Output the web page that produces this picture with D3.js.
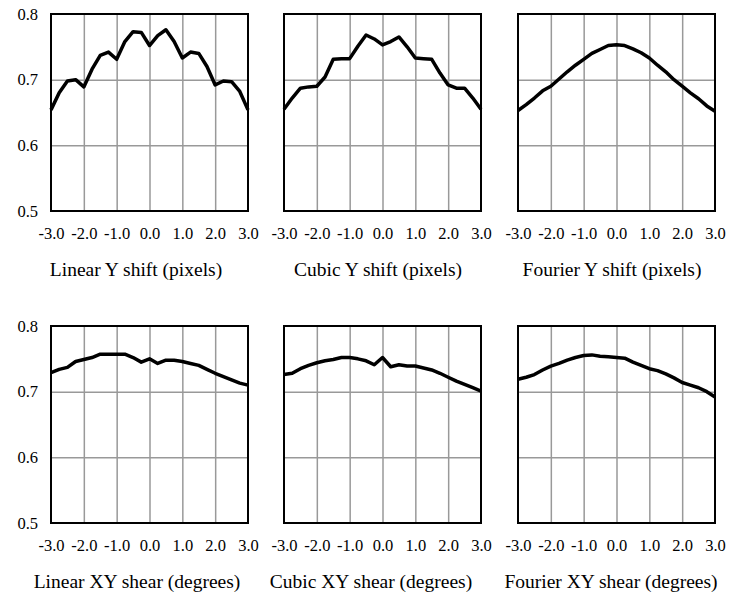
<!DOCTYPE html>
<html lang="en">
<head>
    <meta charset="UTF-8">
    <title>Shift and shear panels</title>
    <script src="https://d3js.org/d3.v7.min.js"></script>
    <style>
        body { margin: 0; background: #fff; font-family: "Liberation Serif", "Times New Roman", serif; }
        .grid line { stroke: #999; stroke-width: 1.5; }
        .grid path { display: none; }
        .lab path, .lab line { display: none; }
        .lab text { font-family: "Liberation Serif", serif; font-size: 16.5px; fill: #000; }
        .title { font-family: "Liberation Serif", serif; font-size: 19.5px; fill: #000; }
    </style>
</head>
<body>
    <div id="chart"></div>

    <script>
        const xValues = [-3, -2.75, -2.5, -2.25, -2, -1.75, -1.5, -1.25, -1, -0.75, -0.5, -0.25,
                         0, 0.25, 0.5, 0.75, 1, 1.25, 1.5, 1.75, 2, 2.25, 2.5, 2.75, 3];

        const linearYShift = [0.654, 0.680, 0.698, 0.700, 0.689, 0.716, 0.737, 0.742, 0.731, 0.758, 0.773, 0.772,
                              0.752, 0.767, 0.776, 0.758, 0.733, 0.742, 0.740, 0.720, 0.692, 0.698, 0.697, 0.682, 0.654];
        const cubicYShift = [0.655, 0.672, 0.687, 0.689, 0.690, 0.704, 0.731, 0.732, 0.732, 0.751, 0.768, 0.762,
                             0.753, 0.758, 0.765, 0.750, 0.733, 0.732, 0.731, 0.710, 0.692, 0.687, 0.687, 0.672, 0.655];
        const fourierYShift = [0.653, 0.662, 0.672, 0.683, 0.690, 0.701, 0.712, 0.722, 0.731, 0.740, 0.746, 0.752,
                               0.753, 0.752, 0.747, 0.741, 0.733, 0.722, 0.712, 0.700, 0.690, 0.680, 0.671, 0.660, 0.652];
        const linearXYShear = [0.729, 0.734, 0.737, 0.746, 0.749, 0.752, 0.757, 0.757, 0.757, 0.757, 0.752, 0.745,
                               0.750, 0.743, 0.748, 0.748, 0.746, 0.743, 0.740, 0.734, 0.728, 0.723, 0.718, 0.713, 0.710];
        const cubicXYShear = [0.726, 0.728, 0.735, 0.740, 0.744, 0.747, 0.749, 0.752, 0.752, 0.750, 0.747, 0.741,
                              0.752, 0.738, 0.741, 0.739, 0.739, 0.736, 0.733, 0.728, 0.722, 0.716, 0.711, 0.706, 0.701];
        const fourierXYShear = [0.719, 0.722, 0.726, 0.733, 0.739, 0.743, 0.748, 0.752, 0.755, 0.756, 0.754, 0.753,
                                0.752, 0.751, 0.745, 0.740, 0.735, 0.732, 0.727, 0.721, 0.714, 0.710, 0.706, 0.700, 0.692];

        const xTicks = [-3, -2, -1, 0, 1, 2, 3];
        const yTicks = [0.5, 0.6, 0.7, 0.8];
        const titles = ["Linear Y shift (pixels)", "Cubic Y shift (pixels)", "Fourier Y shift (pixels)",
                        "Linear XY shear (degrees)", "Cubic XY shear (degrees)", "Fourier XY shear (degrees)"];
        const series = [linearYShift, cubicYShift, fourierYShift, linearXYShear, cubicXYShear, fourierXYShear];

        const W = 729, H = 598;
        const plotW = 197, plotH = 197;
        const colLeft = [51, 284, 518];
        const rowTop = [14, 326];
        const titleX = [136, 378, 612, 137, 371, 611];

        const svg = d3.select("#chart").append("svg")
            .attr("width", W)
            .attr("height", H);

        const x = d3.scaleLinear().domain([-3, 3]).range([0, plotW]);
        const y = d3.scaleLinear().domain([0.5, 0.8]).range([plotH, 0]);

        const line = d3.line()
            .x((d, i) => x(xValues[i]))
            .y(d => y(d));

        series.forEach((vals, k) => {
            const col = k % 3, row = Math.floor(k / 3);
            const g = svg.append("g")
                .attr("transform", `translate(${colLeft[col]},${rowTop[row]})`);

            // grid lines
            g.append("g").attr("class", "grid")
                .attr("transform", `translate(0,${plotH})`)
                .call(d3.axisBottom(x).tickValues(xTicks.slice(1, -1)).tickSize(-plotH).tickFormat(""));
            g.append("g").attr("class", "grid")
                .call(d3.axisLeft(y).tickValues([0.6, 0.7]).tickSize(-plotW).tickFormat(""));

            // frame
            g.append("rect")
                .attr("width", plotW)
                .attr("height", plotH)
                .attr("fill", "none")
                .attr("stroke", "#000")
                .attr("stroke-width", 2);

            g.append("path")
                .datum(vals)
                .attr("d", line)
                .attr("fill", "none")
                .attr("stroke", "#000")
                .attr("stroke-width", 3.5)
                .attr("stroke-linejoin", "round");

            g.append("g").attr("class", "lab")
                .attr("transform", `translate(0,${plotH})`)
                .call(d3.axisBottom(x).tickValues(xTicks).tickSize(0).tickPadding(16)
                    .tickFormat(d => d.toFixed(1)));

            if (col === 0) {
                g.append("g").attr("class", "lab")
                    .call(d3.axisLeft(y).tickValues(yTicks).tickSize(0).tickPadding(13)
                        .tickFormat(d => d.toFixed(1)));
            }

            svg.append("text")
                .attr("class", "title")
                .attr("x", titleX[k])
                .attr("y", rowTop[row] + 262)
                .attr("text-anchor", "middle")
                .text(titles[k]);
        });
    </script>
</body>
</html>
